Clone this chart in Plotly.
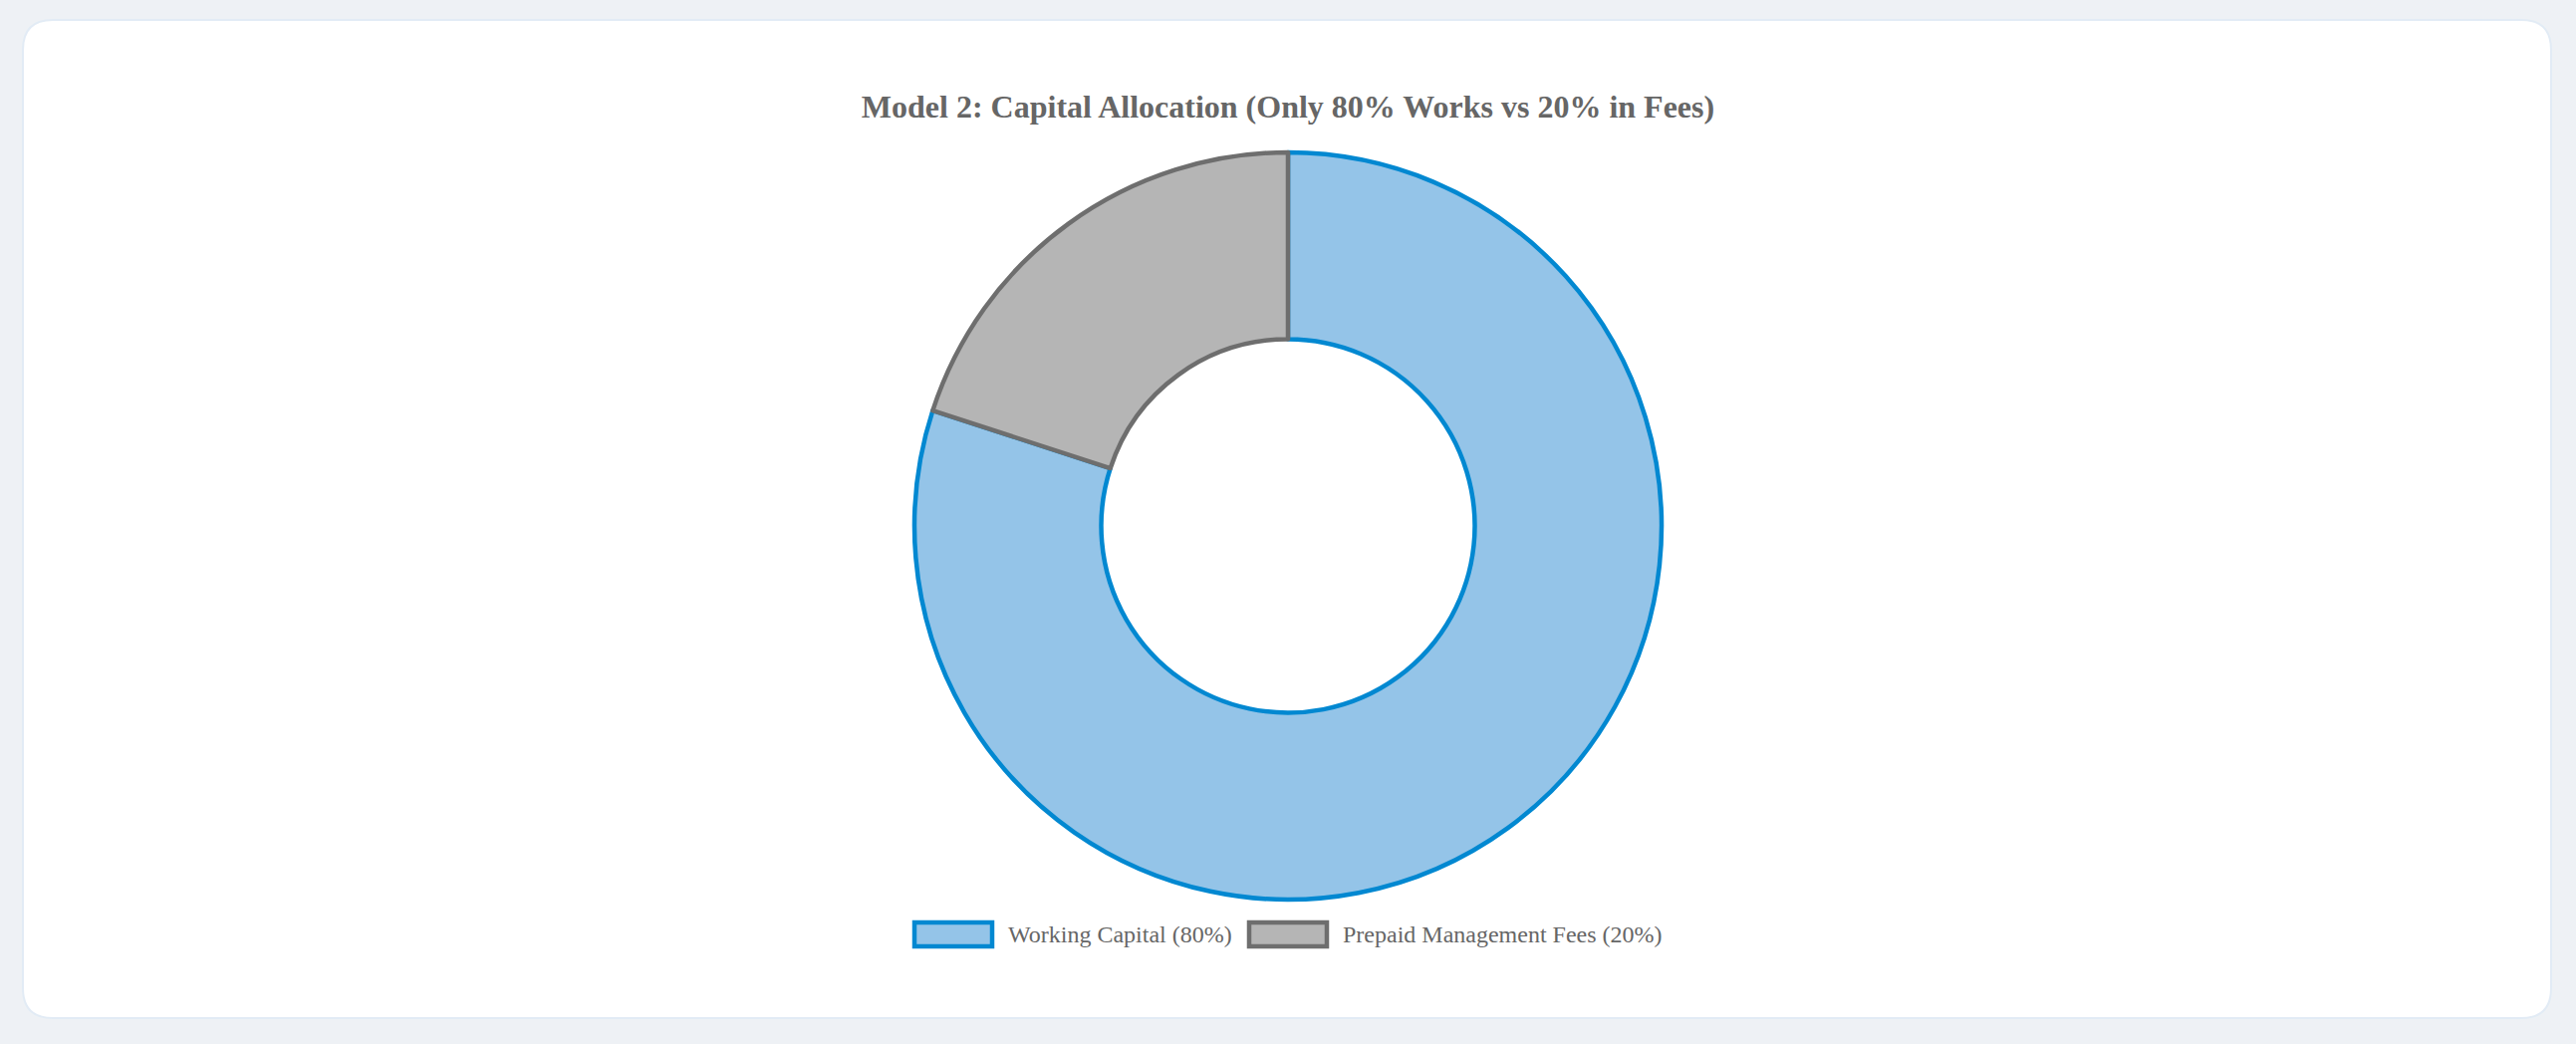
import plotly.graph_objects as go

W, H = 2586, 1048

labels = ["Working Capital (80%)", "Prepaid Management Fees (20%)"]
values = [80, 20]
fill_colors = ["#94c4e8", "#b5b5b5"]
line_colors = ["#0288d1", "#6e6e6e"]

title_text = "Model 2: Capital Allocation (Only 80% Works vs 20% in Fees)"

# legend layout (pixels from top-left), chart.js style boxes
legend_box_x = [916, 1252]
legend_y = 938
box_w, box_h = 82, 28


def px(x):
    return x / W


def py(y):
    return 1 - y / H


def rounded_rect(x0, y0, x1, y1, r):
    rx, ry = r / W, r / H
    return (
        f"M {px(x0) + rx},{py(y0)} L {px(x1) - rx},{py(y0)} "
        f"Q {px(x1)},{py(y0)} {px(x1)},{py(y0) - ry} "
        f"L {px(x1)},{py(y1) + ry} "
        f"Q {px(x1)},{py(y1)} {px(x1) - rx},{py(y1)} "
        f"L {px(x0) + rx},{py(y1)} "
        f"Q {px(x0)},{py(y1)} {px(x0)},{py(y1) + ry} "
        f"L {px(x0)},{py(y0) - ry} "
        f"Q {px(x0)},{py(y0)} {px(x0) + rx},{py(y0)} Z"
    )


fig = go.Figure(
    go.Pie(
        labels=labels,
        values=values,
        hole=0.5,
        sort=False,
        direction="clockwise",
        rotation=0,
        textinfo="none",
        showlegend=False,
        marker=dict(colors=fill_colors, line=dict(color=line_colors, width=4.5)),
        domain=dict(x=[0, 1], y=[py(903), py(153)]),
    )
)

shapes = [
    dict(
        type="path",
        xref="paper",
        yref="paper",
        path=rounded_rect(23, 20, 2561, 1022, 30),
        fillcolor="#ffffff",
        line=dict(color="#e2ebf5", width=2),
        layer="below",
    )
]
annotations = []
for lab, fc, lc, bx in zip(labels, fill_colors, line_colors, legend_box_x):
    shapes.append(
        dict(
            type="rect",
            xref="paper",
            yref="paper",
            x0=px(bx + 2),
            x1=px(bx + box_w - 2),
            y0=py(legend_y + box_h / 2 - 2),
            y1=py(legend_y - box_h / 2 + 2),
            fillcolor=fc,
            line=dict(color=lc, width=4.5),
        )
    )
    annotations.append(
        dict(
            text=lab,
            xref="paper",
            yref="paper",
            x=px(bx + box_w + 12),
            y=py(legend_y),
            xanchor="left",
            yanchor="middle",
            showarrow=False,
            font=dict(size=24, color="#666666"),
        )
    )

fig.update_layout(
    width=W,
    height=H,
    margin=dict(l=0, r=0, t=0, b=0),
    paper_bgcolor="#eef1f5",
    font=dict(family="Liberation Serif, Times New Roman, serif", color="#666666"),
    title=dict(
        text=f"<b>{title_text}</b>",
        x=0.5,
        xanchor="center",
        y=py(107),
        yanchor="middle",
        font=dict(size=32, color="#666666"),
    ),
    showlegend=False,
    shapes=shapes,
    annotations=annotations,
)

fig.write_html(
    "out.html",
    config={"displayModeBar": False},
    post_script="document.body.style.margin='0';document.body.style.background='#eef1f5';",
)
